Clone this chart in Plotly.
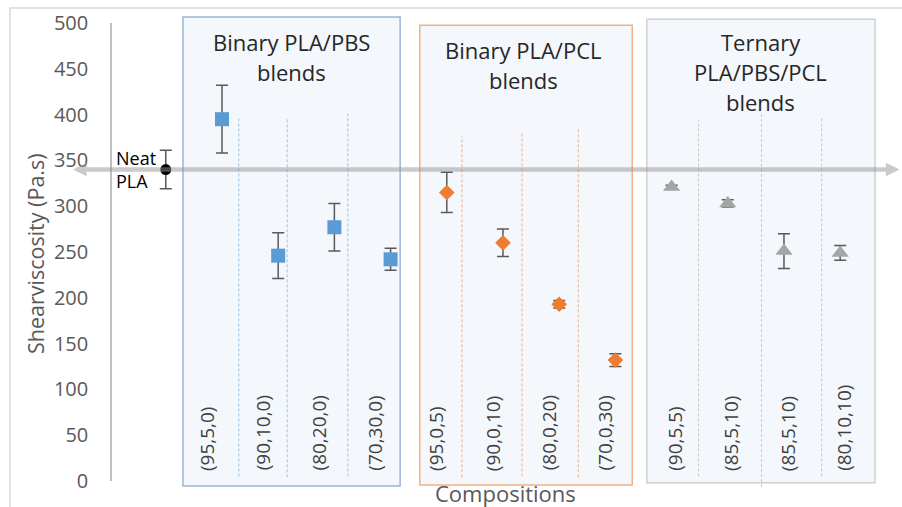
import plotly.graph_objects as go

# ---------------- data ----------------
neat_label = "Neat PLA"
neat_value = [340]
neat_err = [21]

pbs_labels = ["(95,5,0)", "(90,10,0)", "(80,20,0)", "(70,30,0)"]
pbs_values = [395, 246, 277, 242]
pbs_err = [37, 25, 26, 12]

pcl_labels = ["(95,0,5)", "(90,0,10)", "(80,0,20)", "(70,0,30)"]
pcl_values = [315, 260, 193, 132]
pcl_err = [22, 15, 4, 7]

ter_labels = ["(90,5,5)", "(85,5,10)", "(85,5,10)", "(80,10,10)"]
ter_values = [321, 303, 251, 249]
ter_err = [2, 4, 19, 8]

group_titles = [
    ["Binary PLA/PBS", "blends"],
    ["Binary PLA/PCL", "blends"],
    ["Ternary", "PLA/PBS/PCL", "blends"],
]
y_ticks = [0, 50, 100, 150, 200, 250, 300, 350, 400, 450, 500]

# category positions
neat_x = [0]
pbs_x = [1, 2, 3, 4]
pcl_x = [5, 6, 7, 8]
ter_x = [9, 10, 11, 12]

FONT = "Open Sans"
ERR_COLOR = "#595959"

fig = go.Figure()

def add_series(xs, ys, errs, symbol, color, size, name):
    fig.add_trace(go.Scatter(
        x=xs, y=ys, mode="markers", name=name,
        marker=dict(symbol=symbol, color=color, size=size, line=dict(width=0)),
        error_y=dict(type="data", array=errs, visible=True,
                     color=ERR_COLOR, thickness=1.5, width=6),
        cliponaxis=False, showlegend=False,
    ))

# ---------------- boxes (behind) ----------------
boxes = [
    (0.306, 4.17, -5.5, 506.5, "#9CB6D8"),
    (4.52, 8.30, -4.4, 497.5, "#F4B183"),
    (8.56, 12.62, -2.0, 504.0, "#D0D0D0"),
]
for x0, x1, y0, y1, col in boxes:
    fig.add_shape(type="rect", xref="x", yref="paper",
                  x0=x0, x1=x1, y0=y0 / 500, y1=y1 / 500,
                  fillcolor="#F4F7FB", line=dict(color=col, width=1.5),
                  layer="below")

dividers = [
    (1.30, 5, 397, "#9DC3E6"), (2.16, 4, 396, "#9DC3E6"), (3.24, 5, 401, "#9DC3E6"),
    (5.27, 4, 377, "#F4B183"), (6.34, 5, 380, "#F4B183"), (7.34, 4, 385, "#F4B183"),
    (9.48, 5, 394, "#C8C8C8"), (10.6, -6.5, 403, "#C8C8C8"), (11.67, 5, 398, "#C8C8C8"),
]
for xd, yb, yt, col in dividers:
    fig.add_shape(type="line", xref="x", yref="paper",
                  x0=xd, x1=xd, y0=yb / 500, y1=yt / 500,
                  line=dict(color=col, width=1, dash="3px,2px"), layer="below")

# outer chart frame
fig.add_shape(type="rect", xref="paper", yref="paper",
              x0=-0.1291, x1=1.02, y0=-0.08, y1=1.0328,
              line=dict(color="#D9D9D9", width=1.5), fillcolor="rgba(0,0,0,0)",
              layer="below")

# ---------------- series ----------------
add_series(neat_x, neat_value, neat_err, "circle", "#000000", 11, neat_label)
add_series(pbs_x, pbs_values, pbs_err, "square", "#5B9BD5", 14, "PLA/PBS")
add_series(pcl_x, pcl_values, pcl_err, "diamond", "#ED7D31", 12, "PLA/PCL")
add_series(ter_x, ter_values, ter_err, "triangle-up", "#A5A5A5", 15, "PLA/PBS/PCL")

# ---------------- neat PLA reference arrow ----------------
fig.add_annotation(x=-1.65, y=neat_value[0], ax=13.08, ay=neat_value[0],
                   xref="x", yref="y", axref="x", ayref="y",
                   text="", showarrow=True, arrowhead=2, arrowside="end+start",
                   arrowsize=0.6, arrowwidth=4.5, arrowcolor="rgba(150,150,150,0.5)")

fig.add_annotation(x=-0.92, y=neat_value[0], xref="x", yref="y",
                   text="Neat<br>PLA", showarrow=False, xanchor="left", yanchor="middle",
                   align="left", font=dict(family=FONT, size=18, color="#000000"))

# ---------------- category labels ----------------
groups = [(pbs_x, pbs_labels, -0.27), (pcl_x, pcl_labels, -0.18), (ter_x, ter_labels, 0.07)]
for xs, labels, off in groups:
    for xv, lab in zip(xs, labels):
        fig.add_annotation(x=xv + off, y=9, xref="x", yref="y", text=lab,
                           showarrow=False, textangle=-90,
                           xanchor="center", yanchor="bottom",
                           font=dict(family=FONT, size=19, color="#404040"))

# ---------------- group titles ----------------
title_pos = [(2.23, [42, 72]), (6.36, [50, 80]), (10.59, [42, 72, 102])]
for lines, (cx, ys) in zip(group_titles, title_pos):
    for line, py in zip(lines, ys):
        fig.add_annotation(x=cx, y=(481 - py) / 458, xref="x", yref="paper",
                           text=line, showarrow=False, xanchor="center", yanchor="middle",
                           font=dict(family=FONT, size=22, color="#262626"))

# axis titles
fig.add_annotation(x=(35 - 112) / 790, y=(481 - 254) / 458, xref="paper", yref="paper",
                   text="Shearviscosity (Pa.s)", showarrow=False, textangle=-90,
                   xanchor="center", yanchor="middle",
                   font=dict(family=FONT, size=21.5, color="#595959"))
fig.add_annotation(x=(505 - 112) / 790, y=(481 - 493) / 458, xref="paper", yref="paper",
                   text="Compositions", showarrow=False, xanchor="center", yanchor="middle",
                   font=dict(family=FONT, size=22, color="#595959"))

fig.update_layout(
    width=902, height=507,
    margin=dict(l=112, r=0, t=23, b=26),
    paper_bgcolor="white", plot_bgcolor="rgba(0,0,0,0)",
    font=dict(family=FONT),
    xaxis=dict(range=[-0.957, 13.10], visible=False, showgrid=False, zeroline=False),
    yaxis=dict(range=[0, 500], tickvals=y_ticks, showgrid=False, zeroline=False,
               showline=True, linecolor="#BFBFBF", linewidth=1.5,
               ticks="outside", ticklen=18, tickcolor="rgba(0,0,0,0)",
               tickfont=dict(family=FONT, size=20, color="#595959")),
)

fig.write_html("out.html", post_script="document.body.style.margin='0';",
               config={"displayModeBar": False})
